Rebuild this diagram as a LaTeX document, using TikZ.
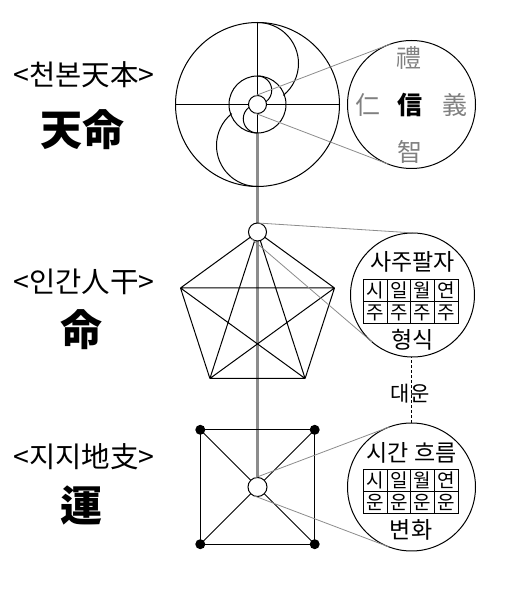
\documentclass[tikz,border=0pt]{standalone}
\usepackage{fontspec}
\newfontfamily\kr{Noto Sans CJK KR}
\usetikzlibrary{backgrounds}
\begin{document}
\begin{tikzpicture}[x=1pt,y=1pt,
  blk/.style={line width=1pt, black},
  tang/.style={line width=0.8pt, black!45},
  axisline/.style={line width=2.4pt, black!45},
  ring/.style={circle, draw, line width=1pt, inner sep=0pt, outer sep=0pt, minimum size=#1},
  hub/.style={circle, draw, fill=white, line width=1pt, inner sep=0pt, outer sep=0pt, minimum size=18pt},
  corner/.style={circle, fill=black, inner sep=0pt, minimum size=10pt},
  lbl/.style={font=\kr\fontsize{28.5}{31}\selectfont, inner sep=0pt},
  big/.style={font=\kr\bfseries\fontsize{42}{46}\selectfont, inner sep=0pt},
  ctext/.style={font=\kr\fontsize{23}{25}\selectfont, inner sep=0pt},
  cell/.style={draw, line width=0.6pt, minimum width=23.75pt, minimum height=22pt, inner sep=0pt, font=\kr\fontsize{19}{20}\selectfont},
  virt/.style={font=\kr\fontsize{25}{27}\selectfont, text=black!50, inner sep=0pt}
]
\useasboundingbox (0,0) rectangle (514,590);

% ---------- top: heaven ----------
\node[ring=164pt] (C1) at (257.5,485.5) {};
\node[ring=57pt] (C1i) at (257.5,485.5) {};
\draw[blk] (C1.west) -- (C1.east);
\draw[blk] (C1.north) -- (C1i.south);
\draw[blk] (C1.north) arc[start angle=90, end angle=-51, radius=41];
\draw[blk] (C1.south) arc[start angle=270, end angle=129, radius=41];
\draw[blk] (C1i.north) arc[start angle=90, end angle=-53, radius=14.25];
\draw[blk] (C1i.south) arc[start angle=270, end angle=127, radius=14.25];
\node[hub] (S1) at (C1) {};
\node[ring=128pt] (R1) at (411.5,485.5) {};
\draw[tang] (S1.110.9) -- (R1.110.9);
\draw[tang] (S1.249.1) -- (R1.249.1);
\node[virt] (li) at (409,531.7) {禮};
\node[virt] (ren) at (368.3,485) {仁};
\node[font=\kr\bfseries\fontsize{25}{27}\selectfont, inner sep=0pt] (xin) at (410,485) {信};
\node[virt] (yi) at (455,485) {義};
\node[virt] (zhi) at (410,438.3) {智};

% ---------- middle: pentagon ----------
\coordinate (pL) at (180.5,302);
\coordinate (pR) at (334.5,302);
\coordinate (pBL) at (209.9,211.5);
\coordinate (pBR) at (305.1,211.5);
\node[hub] (P0) at (257.5,358) {};
\draw[blk] (P0) -- (pL) (P0) -- (pR) (P0) -- (pBL) (P0) -- (pBR)
  (pL) -- (pR) (pL) -- (pBL) (pL) -- (pBR) (pR) -- (pBL) (pR) -- (pBR) (pBL) -- (pBR);
\node[ring=124pt] (R2) at (412.5,295) {};
\draw[tang] (P0.86.35) -- (R2.86.35);
\draw[tang] (P0.229.4) -- (R2.229.4);
\node[ctext] (sj) at (412.5,328.3) {사주팔자};
\foreach \t [count=\i] in {시,일,월,연} {\node[cell] (a\i) at (351.4+23.75*\i,299.5) {\t};}
\foreach \t [count=\i] in {주,주,주,주} {\node[cell] (b\i) at (351.4+23.75*\i,277.5) {\t};}
\node[ctext] (hs) at (412.5,250) {형식};

% ---------- bottom: square ----------
\coordinate (k1) at (200.3,160.2);
\coordinate (k2) at (314.7,160.2);
\coordinate (k3) at (200.3,45.8);
\coordinate (k4) at (314.7,45.8);
\node[hub, minimum size=19pt] (S0) at (257.5,103) {};
\draw[blk] (k1) -- (k2) -- (k4) -- (k3) -- cycle;
\draw[blk] (k1) -- (S0) (k2) -- (S0) (k3) -- (S0) (k4) -- (S0);
\node[corner] (d1) at (k1) {};
\node[corner] (d2) at (k2) {};
\node[corner] (d3) at (k3) {};
\node[corner] (d4) at (k4) {};
\node[ring=128pt] (R3) at (411.5,103) {};
\draw[tang] (S0.110.7) -- (R3.110.7);
\draw[tang] (S0.249.3) -- (R3.249.3);
\node[ctext] (sg) at (411.5,136.7) {시간 흐름};
\foreach \t [count=\i] in {시,일,월,연} {\node[cell] (c\i) at (351.4+23.75*\i,109.7) {\t};}
\foreach \t [count=\i] in {운,운,운,운} {\node[cell] (e\i) at (351.4+23.75*\i,87.7) {\t};}
\node[ctext] (bh) at (411,60) {변화};

% dashed link
\draw[line width=0.8pt, dash pattern=on 3pt off 2pt] (R3.north) -- (R3.north |- R2.south);
\node[font=\kr\fontsize{21}{23}\selectfont, inner sep=0pt] (dw) at (410,196.7) {대운};

% ---------- left labels ----------
\node[lbl] (t1) at (84.2,515) {<천본天本>};
\node[big] (t2) at (82.5,460) {天命};
\node[lbl] (t3) at (84.2,308.3) {<인간人干>};
\node[big] (t4) at (81,260) {命};
\node[lbl] (t5) at (84.2,133.3) {<지지地支>};
\node[big] (t6) at (81,85) {運};

% ---------- axis ----------
\begin{pgfonlayer}{background}
\draw[axisline] (C1i.south) -- (S0.north);
\end{pgfonlayer}
\end{tikzpicture}
\end{document}
